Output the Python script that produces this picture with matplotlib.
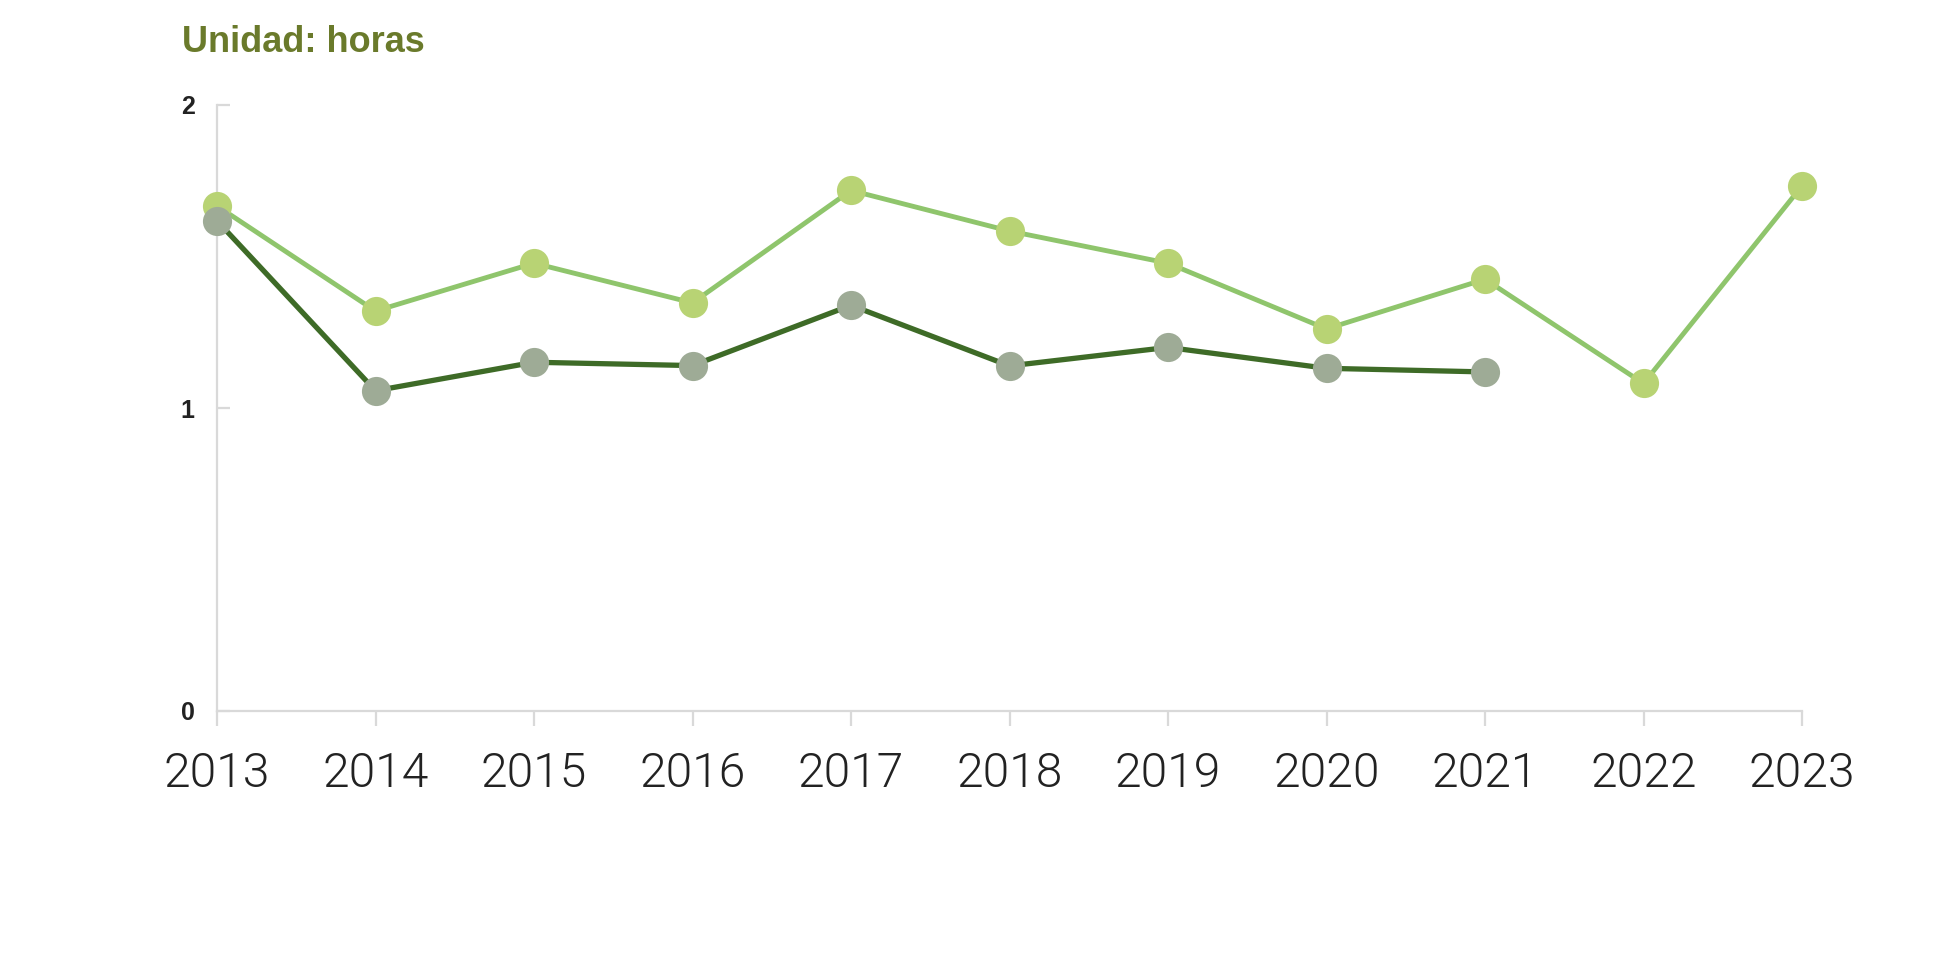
import matplotlib
matplotlib.use("Agg")
import matplotlib.pyplot as plt

years = [2013, 2014, 2015, 2016, 2017, 2018, 2019, 2020, 2021, 2022, 2023]
serie_clara = [1.667, 1.320, 1.478, 1.347, 1.718, 1.584, 1.478, 1.261, 1.425, 1.081, 1.733]
years_oscura = [2013, 2014, 2015, 2016, 2017, 2018, 2019, 2020, 2021]
serie_oscura = [1.618, 1.057, 1.151, 1.140, 1.339, 1.139, 1.200, 1.131, 1.119]
y_ticks = [0, 1, 2]
y_labels = ["0", "1", "2"]
title = "Unidad: horas"

W, H = 1938, 958
fig = plt.figure(figsize=(W / 100, H / 100), dpi=100)
ax = fig.add_axes([217 / W, 1 - 711 / H, (1802 - 217) / W, (711 - 105) / H])

axis_col = "#d9d9d9"

ax.plot(years, serie_clara, color="#8fc56c", lw=3.5, zorder=3, clip_on=False,
        marker="o", ms=21, mfc="#b8d374", mec="none", solid_capstyle="round")
ax.plot(years_oscura, serie_oscura, color="#3e6b27", lw=3.8, zorder=4, clip_on=False,
        marker="o", ms=21, mfc="#9eab96", mec="none", solid_capstyle="round")

ax.set_xlim(2013, 2023)
ax.set_ylim(0, 2)
for s in ["top", "right"]:
    ax.spines[s].set_visible(False)
for s in ["left", "bottom"]:
    ax.spines[s].set_color(axis_col)
    ax.spines[s].set_linewidth(1.6)

ax.set_xticks(years)
ax.set_xticklabels([str(y) for y in years], fontfamily="Roboto", fontweight=300,
                   fontsize=34.5, color="#222222")
ax.set_yticks(y_ticks)
ax.set_yticklabels(y_labels, fontfamily="Liberation Sans", fontweight="bold",
                   fontsize=18, color="#222222")
ax.tick_params(axis="x", direction="out", length=11, width=1.6, color=axis_col, pad=18)
ax.tick_params(axis="y", direction="in", length=9.5, width=1.6, color=axis_col, pad=16)

fig.text(182 / W, 1 - 43 / H, title, fontfamily="Liberation Sans", fontweight="bold",
         fontsize=26, color="#6a7a2b", ha="left", va="center")

fig.savefig("out.png", dpi=100, facecolor="white")
